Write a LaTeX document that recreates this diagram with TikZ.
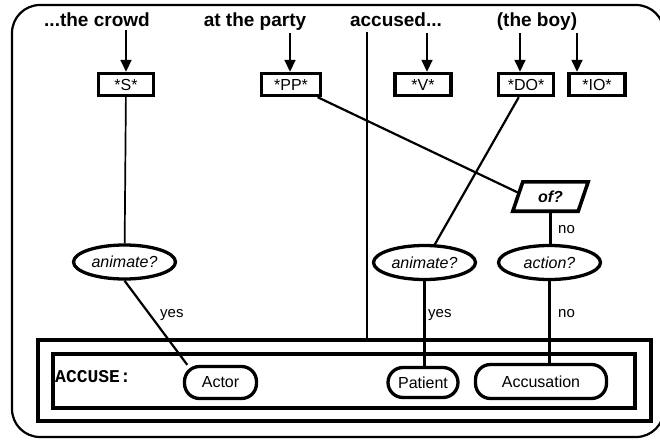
\documentclass[tikz,border=0pt]{standalone}
\usepackage{fontspec}
\setmainfont{Liberation Sans}
\newfontfamily\monofont{Liberation Mono}
\usetikzlibrary{shapes.geometric,arrows.meta,calc}
\begin{document}
\begin{tikzpicture}[x=1pt,y=-1pt,
  title/.style={font=\fontsize{19}{21}\selectfont\bfseries, anchor=base, inner sep=0pt},
  slot/.style={draw, line width=3.4pt, minimum height=22pt, inner sep=0pt,
    font=\fontsize{16}{18}\selectfont},
  test/.style={draw, ellipse, line width=3.3pt, minimum width=102pt, minimum height=34pt,
    inner sep=0pt, font=\fontsize{16}{18}\selectfont\itshape},
  role/.style={draw, rounded corners=15pt, line width=3.3pt, inner sep=0pt,
    font=\fontsize{16}{18}\selectfont},
  frame/.style={draw, line width=3.6pt, inner sep=0pt},
  link/.style={line width=2.2pt},
  thinlink/.style={line width=1.7pt},
  feed/.style={line width=1.6pt, -{Triangle[width=11pt,length=12pt]}},
  branch/.style={font=\fontsize{15}{17}\selectfont, anchor=base west, inner sep=0pt},
]
\useasboundingbox (0,0) rectangle (660,439);
\clip (0,0) rectangle (660,439);

% outer rounded frame
\draw[line width=2.2pt, rounded corners=28pt] (12,5) rectangle (664,437);

% sentence fragments
\node[title] (crowd)   at (97,26)  {...the crowd};
\node[title] (party)   at (255,26) {at the party};
\node[title] (accused) at (396,26) {accused...};
\node[title] (boy)     at (537,26) {(the boy)};

% syntactic slots
\node[slot, minimum width=55pt] (s)  at (126,84.5) {*S*};
\node[slot, minimum width=59pt] (pp) at (291,84.5) {*PP*};
\node[slot, minimum width=56pt] (v)  at (423,84.5) {*V*};
\node[slot, minimum width=55pt] (do) at (526,84.5) {*DO*};
\node[slot, minimum width=56pt] (io) at (597,84.5) {*IO*};

% tails of the feeding arrows
\coordinate (stail)  at (126,30);
\coordinate (pptail) at (290,33);
\coordinate (vtail)  at (427,33);
\coordinate (dotail) at (520,33);
\coordinate (iotail) at (577,33);

% arrows from the fragments into the slots
\draw[feed] (stail)  -- (stail  |- s.north);
\draw[feed] (pptail) -- (pptail |- pp.north);
\draw[feed] (vtail)  -- (vtail  |- v.north);
\draw[feed] (dotail) -- (dotail |- do.north);
\draw[feed] (iotail) -- (iotail |- io.north);

% tests
\node[test] (an1) at (124.5,262)   {animate?};
\node[test] (an2) at (424.5,262.5) {animate?};
\node[test] (act) at (549.5,262.5) {action?};
\node[inner sep=0pt, minimum width=75pt, minimum height=29pt,
      font=\fontsize{16}{18}\selectfont\bfseries\itshape] (of) at (550.5,196.5) {of?};
\draw[line width=3.6pt, line join=miter]
  ($(of.north west)+(10,0)$) -- (of.north east) -- ($(of.south east)+(-10,0)$)
  -- (of.south west) -- cycle;

% case frame
\node[frame, minimum width=613.5pt, minimum height=81.5pt] (outer) at (344.5,380.5) {};
\node[frame, minimum width=582.5pt, minimum height=54.5pt] (inner) at (344,381) {};
\node[anchor=base west, inner sep=0pt, font=\monofont\fontsize{18}{20}\selectfont\bfseries]
  (head) at (55,382) {ACCUSE:};
\node[role, minimum width=72pt, minimum height=32pt]  (actor)   at (220.5,382.5) {Actor};
\node[role, minimum width=70pt, minimum height=30pt]  (patient) at (423,382.5)   {Patient};
\node[role, minimum width=131pt, minimum height=34pt] (accu)    at (541,381.5)   {Accusation};

% connections
\coordinate (acctop) at (367,32);
\coordinate (ofin) at ($(of.west)+(5,-4)$);
\draw[thinlink] (acctop) -- (acctop |- outer.north);
\draw[thinlink] (s) -- (an1);
\draw[link] (pp) -- (ofin);
\draw[link] (do) -- (an2);
\draw[link] (of.south) -- (of.south |- act.north);
\draw[link] (an1.south) -- (actor.152);
\draw[link] (an2.south) -- (an2.south |- patient.north);
\draw[link] (act.south) -- (act.south |- accu.north);

% branch labels
\node[branch] (yes1) at (160,317.5) {yes};
\node[branch] (yes2) at (428,317.5) {yes};
\node[branch] (no1)  at (558,233)   {no};
\node[branch] (no2)  at (558,317.5) {no};
\end{tikzpicture}
\end{document}
